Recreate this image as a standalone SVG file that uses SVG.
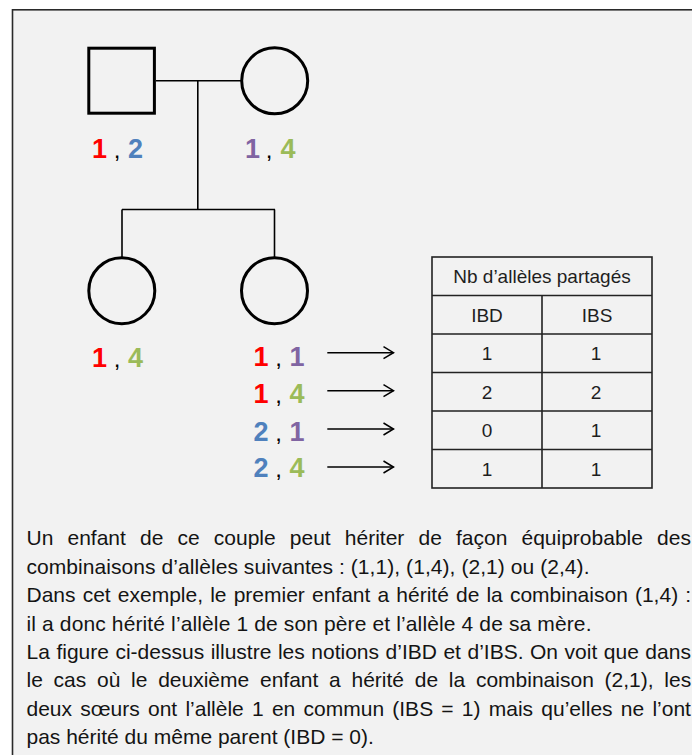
<svg xmlns="http://www.w3.org/2000/svg" width="692" height="755" viewBox="0 0 692 755">
<defs>
<style>
.frame{fill:#f2f2f2;stroke:#2a2a2a;stroke-width:1.6}
.sym{fill:none;stroke:#000;stroke-width:3}
.ln{fill:none;stroke:#000;stroke-width:1.6}
.arr{fill:none;stroke:#000;stroke-width:1.5;marker-end:url(#head)}
.al{font-family:"Liberation Sans",Arial,sans-serif;font-weight:bold;font-size:27px;text-anchor:middle}
.cm{font-family:"Liberation Sans",Arial,sans-serif;font-size:24px;text-anchor:middle;fill:#000}
.r{fill:#ff0000}.b{fill:#4f81bd}.p{fill:#8064a2}.g{fill:#9bbb59}
.tb{fill:none;stroke:#222;stroke-width:1.6}
.tt{font-family:"Liberation Sans",Arial,sans-serif;font-size:19px;fill:#1e1e1e;text-anchor:middle}
.para{font-family:"Liberation Sans",Arial,sans-serif;font-size:21px;fill:#141414}
</style>
<marker id="head" viewBox="0 0 12 14" refX="11" refY="7" markerWidth="12" markerHeight="14" markerUnits="userSpaceOnUse" orient="auto">
<path d="M1,1 L11,7 L1,13" fill="none" stroke="#000" stroke-width="1.5"/>
</marker>
</defs>
<rect x="0" y="0" width="692" height="755" fill="#ffffff"/>
<rect class="frame" x="12.5" y="9.8" width="700" height="760"/>

<g id="connectors">
<path class="ln" d="M156,80.8 H241.7"/>
<path class="ln" d="M197.8,80.8 V209.5"/>
<path class="ln" d="M122,209.5 H275"/>
<path class="ln" d="M122,209.5 V257.5"/>
<path class="ln" d="M274.5,209.5 V257.5"/>
<path class="arr" d="M327.3,352.7 H393.5"/>
<path class="arr" d="M327.3,390.7 H393.5"/>
<path class="arr" d="M327.3,429 H393.5"/>
<path class="arr" d="M327.3,467 H393.5"/>
</g>

<g id="father">
<rect class="sym" x="88.8" y="48.2" width="65.6" height="65"/>
<text class="al r" x="99.5" y="158">1</text>
<text class="cm" x="117" y="158">,</text>
<text class="al b" x="135.5" y="158">2</text>
</g>

<g id="mother">
<circle class="sym" cx="274.7" cy="80.8" r="33"/>
<text class="al p" x="252.4" y="158">1</text>
<text class="cm" x="269" y="158">,</text>
<text class="al g" x="288" y="158">4</text>
</g>

<g id="child1">
<circle class="sym" cx="121.8" cy="290.7" r="33"/>
<text class="al r" x="99.5" y="366.5">1</text>
<text class="cm" x="117" y="366.5">,</text>
<text class="al g" x="135.5" y="366.5">4</text>
</g>

<g id="child2">
<circle class="sym" cx="274.5" cy="290.7" r="33"/>
<text class="al r" x="261" y="366.3">1</text>
<text class="cm" x="278.5" y="366.3">,</text>
<text class="al p" x="297" y="366.3">1</text>
<text class="al r" x="261" y="403">1</text>
<text class="cm" x="278.5" y="403">,</text>
<text class="al g" x="297" y="403">4</text>
<text class="al b" x="261" y="440.5">2</text>
<text class="cm" x="278.5" y="440.5">,</text>
<text class="al p" x="297" y="440.5">1</text>
<text class="al b" x="261" y="477">2</text>
<text class="cm" x="278.5" y="477">,</text>
<text class="al g" x="297" y="477">4</text>
</g>

<g id="table">
<rect class="tb" x="432" y="257" width="220" height="231"/>
<path class="tb" d="M432,295.5 H652 M432,334 H652 M432,372.5 H652 M432,411 H652 M432,449.5 H652 M542,295.5 V488"/>
<text class="tt" x="542" y="282.5">Nb d’allèles partagés</text>
<text class="tt" x="487" y="321.5">IBD</text>
<text class="tt" x="597" y="321.5">IBS</text>
<text class="tt" x="487" y="360">1</text>
<text class="tt" x="596" y="360">1</text>
<text class="tt" x="487" y="398.5">2</text>
<text class="tt" x="596" y="398.5">2</text>
<text class="tt" x="487" y="437">0</text>
<text class="tt" x="596" y="437">1</text>
<text class="tt" x="487" y="475.5">1</text>
<text class="tt" x="596" y="475.5">1</text>
</g>

<g id="caption" class="para">
<text x="26.5" y="545.3" word-spacing="8.3">Un enfant de ce couple peut hériter de façon équiprobable des</text>
<text x="26.5" y="573.7" textLength="563" lengthAdjust="spacing">combinaisons d’allèles suivantes : (1,1), (1,4), (2,1) ou (2,4).</text>
<text x="26.5" y="602.1" word-spacing="1.3">Dans cet exemple, le premier enfant a hérité de la combinaison (1,4) :</text>
<text x="26.5" y="630.5" textLength="565" lengthAdjust="spacing">il a donc hérité l’allèle 1 de son père et l’allèle 4 de sa mère.</text>
<text x="26.5" y="658.9" word-spacing="0.7">La figure ci-dessus illustre les notions d’IBD et d’IBS. On voit que dans</text>
<text x="26.5" y="687.3" word-spacing="4.9">le cas où le deuxième enfant a hérité de la combinaison (2,1), les</text>
<text x="26.5" y="715.7" word-spacing="2.4">deux sœurs ont l’allèle 1 en commun (IBS = 1) mais qu’elles ne l’ont</text>
<text x="26.5" y="744.1">pas hérité du même parent (IBD = 0).</text>
</g>
</svg>
